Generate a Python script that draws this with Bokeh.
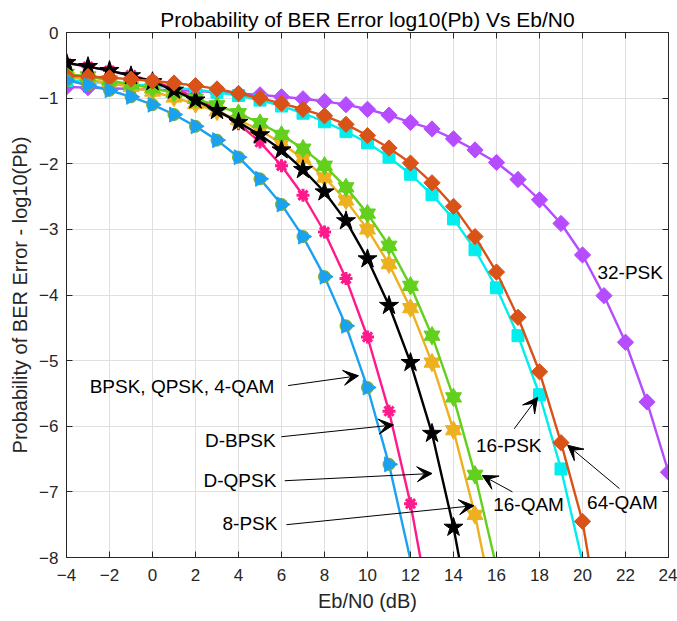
import numpy as np
from bokeh.plotting import figure
from bokeh.models import (LinearAxis, Range1d, FixedTicker, Arrow, VeeHead,
                          Label)
from bokeh.embed import file_html
from bokeh.resources import INLINE

# ---------------- data (log10 of bit error probability) ----------------
x_ticks = [-4, -2, 0, 2, 4, 6, 8, 10, 12, 14, 16, 18, 20, 22, 24]
y_ticks = [-8, -7, -6, -5, -4, -3, -2, -1, 0]

bpsk_x = list(range(-4, 13))
bpsk_y = [-0.73, -0.80, -0.88, -0.98, -1.10, -1.25, -1.43, -1.64, -1.90,
          -2.23, -2.62, -3.11, -3.72, -4.47, -5.41, -6.58, -8.04]

dbpsk_x = list(range(-4, 14))
dbpsk_y = [-0.47, -0.52, -0.58, -0.65, -0.74, -0.85, -0.99, -1.17, -1.39,
           -1.67, -2.03, -2.48, -3.04, -3.75, -4.64, -5.77, -7.18, -8.97]

dqpsk_x = list(range(-4, 16))
dqpsk_y = [-0.46, -0.52, -0.58, -0.66, -0.75, -0.88, -1.03, -1.19, -1.37,
           -1.56, -1.79, -2.09, -2.43, -2.87, -3.45, -4.16, -5.03, -6.11,
           -7.54, -9.30]

psk8_x = list(range(-4, 17))
psk8_y = [-0.68, -0.72, -0.77, -0.83, -0.90, -0.99, -1.09, -1.20, -1.33,
          -1.49, -1.69, -1.92, -2.21, -2.56, -3.00, -3.53, -4.20, -5.03,
          -6.06, -7.35, -8.96]

qam16_x = list(range(-4, 17))
qam16_y = [-0.63, -0.67, -0.73, -0.79, -0.85, -0.92, -1.01, -1.11, -1.23,
           -1.38, -1.56, -1.77, -2.03, -2.36, -2.76, -3.25, -3.86, -4.62,
           -5.56, -6.74, -8.15]

psk16_x = list(range(-4, 21))
psk16_y = [-0.73, -0.75, -0.77, -0.79, -0.81, -0.84, -0.87, -0.91, -0.96,
           -1.03, -1.12, -1.23, -1.36, -1.51, -1.68, -1.90, -2.16, -2.47,
           -2.84, -3.31, -3.89, -4.62, -5.52, -6.65, -8.07]

qam64_x = list(range(-4, 22))
qam64_y = [-0.66, -0.67, -0.69, -0.71, -0.74, -0.77, -0.81, -0.86, -0.93,
           -1.00, -1.08, -1.17, -1.27, -1.40, -1.57, -1.76, -1.99, -2.29,
           -2.65, -3.11, -3.65, -4.34, -5.17, -6.25, -7.45, -9.40]

psk32_x = list(range(-4, 25))
psk32_y = [-0.83, -0.84, -0.85, -0.86, -0.87, -0.88, -0.89, -0.91, -0.93,
           -0.95, -0.98, -1.01, -1.05, -1.10, -1.17, -1.26, -1.37, -1.47,
           -1.62, -1.79, -1.98, -2.24, -2.55, -2.91, -3.39, -4.01, -4.72,
           -5.63, -6.70]

# ---------------- figure ----------------
FONT = "Liberation Sans"
AX = "#262626"

p = figure(width=677, height=619, x_range=Range1d(-4, 24), y_range=Range1d(-8, 0),
           output_backend="svg", toolbar_location=None,
           min_border_left=66, min_border_right=9, min_border_top=32,
           min_border_bottom=62)
p.background_fill_color = "white"
p.border_fill_color = "white"
p.outline_line_color = AX
p.outline_line_width = 1

p.title.text = "Probability of BER Error log10(Pb) Vs Eb/N0"
p.title.text_font = FONT
p.title.text_font_size = "21px"
p.title.text_font_style = "normal"
p.title.text_color = "black"
p.title.align = "center"
p.title.standoff = 4

xt = FixedTicker(ticks=x_ticks)
yt = FixedTicker(ticks=y_ticks)
p.xaxis.ticker = xt
p.yaxis.ticker = yt
p.xgrid.ticker = xt
p.ygrid.ticker = yt
p.grid.grid_line_color = "#dfdfdf"
p.grid.grid_line_width = 1

for ax in (p.xaxis[0], p.yaxis[0]):
    ax.major_tick_in = 6
    ax.major_tick_out = 0
    ax.minor_tick_in = 0
    ax.minor_tick_out = 0
    ax.axis_line_color = AX
    ax.major_tick_line_color = AX
    ax.major_label_text_font = FONT
    ax.major_label_text_font_size = "17px"
    ax.major_label_text_color = AX
    ax.axis_label_text_font = FONT
    ax.axis_label_text_font_size = "20px"
    ax.axis_label_text_font_style = "normal"
    ax.axis_label_text_color = AX

p.xaxis.axis_label = "Eb/N0 (dB)"
p.yaxis.axis_label = "Probability of BER Error - log10(Pb)"
p.xaxis.major_label_standoff = 11
p.xaxis.axis_label_standoff = 6
p.yaxis.major_label_standoff = 8
p.yaxis.axis_label_standoff = 5

for side, tk, tl in (("above", xt, x_ticks), ("right", yt, y_ticks)):
    a = LinearAxis(ticker=tk, major_tick_in=6, major_tick_out=0,
                   minor_tick_in=0, minor_tick_out=0,
                   major_label_overrides={t: "" for t in tl},
                   major_label_standoff=0,
                   axis_line_color=AX, major_tick_line_color=AX)
    p.add_layout(a, side)


def visible(xs, ys):
    xs = np.asarray(xs, dtype=float)
    ys = np.asarray(ys, dtype=float)
    m = ys > -8.0
    return xs[m], ys[m]


LW = 2.4

# 32-PSK (purple diamonds)
p.line(psk32_x, psk32_y, line_color="#b54cff", line_width=LW)
mx, my = visible(psk32_x, psk32_y)
p.scatter(mx, my, marker="square", angle=np.pi / 4, size=11.5,
          fill_color="#b54cff", line_color="#b54cff")

# 16-PSK (cyan squares)
p.line(psk16_x, psk16_y, line_color="#00eeee", line_width=LW)
mx, my = visible(psk16_x, psk16_y)
p.scatter(mx, my, marker="square", size=12, fill_color="#00eeee", line_color="#00eeee")

# D-BPSK (pink)
p.line(dbpsk_x, dbpsk_y, line_color="#ff1a8c", line_width=LW)
mx, my = visible(dbpsk_x, dbpsk_y)
p.scatter(mx, my, marker="asterisk", size=13, line_color="#ff1a8c", line_width=3)
p.scatter(mx, my, marker="circle", size=8, fill_color="#ff1a8c", line_color="#ff1a8c")

# 8-PSK (orange hexagrams)
p.line(psk8_x, psk8_y, line_color="#edb120", line_width=LW)
mx, my = visible(psk8_x, psk8_y)
for mk in ("triangle", "inverted_triangle"):
    p.scatter(mx, my, marker=mk, size=16, fill_color="#edb120", line_color="#edb120")

# 16-QAM (green hexagrams)
p.line(qam16_x, qam16_y, line_color="#62d01c", line_width=LW)
mx, my = visible(qam16_x, qam16_y)
for mk in ("triangle", "inverted_triangle"):
    p.scatter(mx, my, marker=mk, size=16, fill_color="#62d01c", line_color="#62d01c")

# D-QPSK (black stars)
p.line(dqpsk_x, dqpsk_y, line_color="black", line_width=LW)
mx, my = visible(dqpsk_x, dqpsk_y)
p.scatter(mx, my, marker="star", size=20, fill_color="black", line_color="black")

# 64-QAM (orange-red diamonds)
p.line(qam64_x, qam64_y, line_color="#d95319", line_width=LW)
mx, my = visible(qam64_x, qam64_y)
p.scatter(mx, my, marker="square", angle=np.pi / 4, size=11.5,
          fill_color="#d95319", line_color="#d95319")

# BPSK / QPSK / 4-QAM (green circles under blue triangles)
p.line(bpsk_x, bpsk_y, line_color="#1ba1f2", line_width=LW)
mx, my = visible(bpsk_x, bpsk_y)
p.scatter(mx, my, marker="circle", size=12, fill_color="#77ac30", line_color="#77ac30")
p.scatter(mx, my, marker="triangle", angle=-np.pi / 2, size=15,
          fill_color="#1ba1f2", line_color="#1ba1f2")

# ---------------- annotations ----------------
labels = [
    ("BPSK, QPSK, 4-QAM", 5.67, -5.39, "right"),
    ("D-BPSK", 5.73, -6.21, "right"),
    ("D-QPSK", 5.76, -6.83, "right"),
    ("8-PSK", 5.81, -7.48, "right"),
    ("16-QAM", 17.49, -7.19, "center"),
    ("16-PSK", 16.57, -6.29, "center"),
    ("64-QAM", 21.86, -7.16, "center"),
    ("32-PSK", 22.22, -3.65, "center"),
]
for txt, lx, ly, al in labels:
    p.add_layout(Label(x=lx, y=ly, text=txt, text_font=FONT, text_font_size="19px",
                       text_color="black", text_align=al, text_baseline="middle"))

arrows = [
    (6.31, -5.38, 9.58, -5.23),
    (5.99, -6.16, 11.21, -5.98),
    (6.15, -6.83, 13.00, -6.72),
    (6.23, -7.50, 14.95, -7.21),
    (16.74, -7.00, 15.34, -6.75),
    (16.82, -6.04, 17.91, -5.56),
    (21.72, -6.95, 19.31, -6.29),
]
for xs, ys, xe, ye in arrows:
    p.add_layout(Arrow(x_start=xs, y_start=ys, x_end=xe, y_end=ye,
                       line_color="black", line_width=1,
                       end=VeeHead(size=15, fill_color="black", line_color="black",
                                   line_width=1)))

open("out.html", "w").write(file_html(p, INLINE))
